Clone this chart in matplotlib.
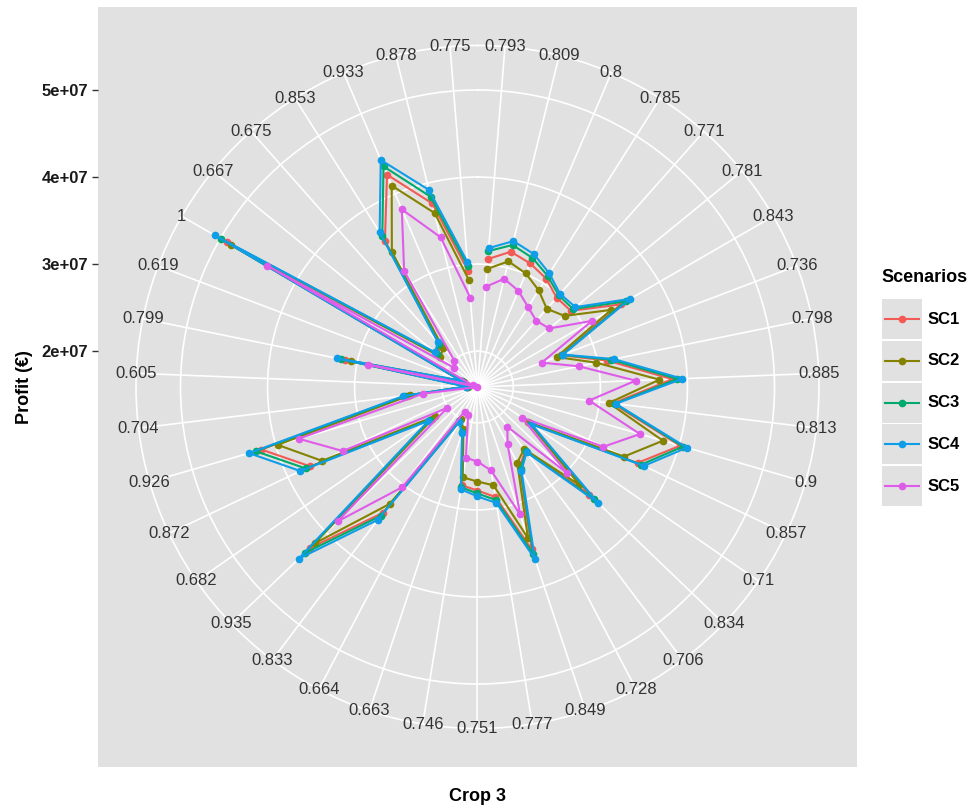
import numpy as np
import matplotlib.pyplot as plt
from matplotlib.patches import Rectangle

plt.rcParams['font.family'] = ['Liberation Sans', 'DejaVu Sans']

# categories, clockwise from the top
crops = ['0.793', '0.809', '0.8', '0.785', '0.771', '0.781', '0.843', '0.736',
         '0.798', '0.885', '0.813', '0.9', '0.857', '0.71', '0.834', '0.706',
         '0.728', '0.849', '0.777', '0.751', '0.746', '0.663', '0.664', '0.833',
         '0.935', '0.682', '0.872', '0.926', '0.704', '0.605', '0.799', '0.619',
         '1', '0.667', '0.675', '0.853', '0.933', '0.878', '0.775']

# profit in units of 1e7 EUR
sc1 = [3.063, 3.189, 3.132, 3.063, 2.960, 2.972, 3.486, 2.618, 3.109, 3.829,
       3.155, 4.012, 3.623, 2.320, 3.372, 2.503, 2.629, 3.555, 2.869, 2.778,
       2.732, 2.126, 2.023, 3.395, 4.263, 2.229, 3.715, 4.172, 2.400, 1.715,
       3.143, 1.783, 4.915, 2.172, 2.229, 3.578, 4.240, 3.760, 2.926]
sc2 = [2.949, 3.075, 3.006, 2.903, 2.789, 2.880, 3.360, 2.560, 2.983, 3.680,
       3.109, 3.806, 3.452, 2.298, 3.212, 2.480, 2.572, 3.418, 2.732, 2.675,
       2.640, 2.103, 2.000, 3.269, 4.183, 2.183, 3.566, 3.978, 2.366, 1.703,
       3.075, 1.760, 4.858, 2.138, 2.183, 3.429, 4.103, 3.646, 2.823]
sc3 = [3.155, 3.269, 3.200, 3.098, 2.995, 3.006, 3.555, 2.629, 3.155, 3.886,
       3.178, 4.046, 3.669, 2.332, 3.452, 2.515, 2.652, 3.612, 2.903, 2.812,
       2.755, 2.138, 2.035, 3.440, 4.343, 2.252, 3.772, 4.240, 2.423, 1.715,
       3.189, 1.783, 4.995, 2.195, 2.252, 3.635, 4.343, 3.840, 2.983]
sc4 = [3.189, 3.315, 3.246, 3.132, 3.018, 3.040, 3.612, 2.640, 3.189, 3.943,
       3.189, 4.092, 3.703, 2.343, 3.509, 2.526, 2.675, 3.669, 2.938, 2.846,
       2.778, 2.149, 2.046, 3.498, 4.435, 2.275, 3.840, 4.320, 2.446, 1.726,
       3.235, 1.795, 5.075, 2.218, 2.275, 3.692, 4.423, 3.920, 3.029]
sc5 = [2.743, 2.869, 2.789, 2.675, 2.606, 2.652, 3.109, 2.378, 2.778, 3.406,
       2.880, 3.532, 3.189, 2.206, 3.018, 2.160, 2.332, 3.132, 2.560, 2.446,
       2.412, 1.932, 1.909, 3.029, 3.818, 2.012, 3.303, 3.726, 2.218, 1.589,
       2.869, 1.646, 4.378, 1.943, 1.989, 3.166, 3.806, 3.360, 2.618]

scenarios = ['SC1', 'SC2', 'SC3', 'SC4', 'SC5']
colors = ['#F35A55', '#858200', '#00AA6C', '#0F9DE8', '#DF5CEA']
r_ticks = [2e7, 3e7, 4e7, 5e7]
r_labels = ['2e+07', '3e+07', '4e+07', '5e+07']

series = [np.array(s) * 1e7 for s in (sc1, sc2, sc3, sc4, sc5)]
lo = min(s.min() for s in series)
hi = max(s.max() for s in series)
span = hi - lo

W, H = 976, 808
fig = plt.figure(figsize=(W / 100, H / 100), dpi=100)


def rect(x0, y0, w, h):
    return [x0 / W, 1 - (y0 + h) / H, w / W, h / H]


BG = '#E1E1E1'

# square grey panel (carries the radial axis on the left)
bg = fig.add_axes(rect(98, 7, 759, 760))
bg.set_facecolor(BG)
bg.set_xlim(0, 1)
bg.set_ylim(lo - 1.25 * span, lo + 1.25 * span)
bg.set_xticks([])
bg.set_yticks(r_ticks)
bg.set_yticklabels(r_labels)
for s in bg.spines.values():
    s.set_visible(False)
bg.tick_params(axis='y', length=4, width=1, color='#333333', pad=3,
               labelsize=12, labelcolor='#1a1a1a')
for t in bg.get_yticklabels():
    t.set_fontweight('bold')
bg.set_ylabel('Profit (€)', fontsize=13, fontweight='bold', labelpad=6)
bg.set_xlabel('Crop 3', fontsize=13, fontweight='bold', labelpad=15)

# polar plot, radius = 0.45 of the panel
pol = fig.add_axes(rect(477.5 - 341.5, 387 - 342, 683, 684), projection='polar')
pol.set_facecolor('none')
pol.set_theta_zero_location('N')
pol.set_theta_direction(-1)
n = len(crops)
theta = (np.arange(n) + 0.5) * 2 * np.pi / n
r_out = lo + 1.125 * span
pol.set_ylim(lo, r_out)
pol.set_xticks(theta)
pol.set_xticklabels([])
pol.set_yticks(r_ticks)
pol.set_yticklabels([])
pol.grid(True, color='white', linewidth=1.2)
pol.spines['polar'].set_color('white')
pol.spines['polar'].set_linewidth(1.2)
pol.tick_params(length=0)

for vals, col in zip(series, colors):
    pol.plot(theta, vals, color=col, linewidth=1.5, marker='o',
             markersize=4.5, zorder=3)

for t, lab in zip(theta, crops):
    pol.text(t, r_out, lab, ha='center', va='center', fontsize=12,
             color='#333333', zorder=4, clip_on=False)

# legend
leg = fig.add_axes([0, 0, 1, 1])
leg.set_xlim(0, W)
leg.set_ylim(H, 0)
leg.axis('off')
leg.patch.set_alpha(0)
leg.text(881, 278, 'Scenarios', fontsize=13, fontweight='bold',
         ha='left', va='center')
for i, (name, col) in enumerate(zip(scenarios, colors)):
    top = 299 + 41.8 * i
    c = top + 20
    leg.add_patch(Rectangle((882, top), 40, 40, facecolor=BG, edgecolor='none'))
    leg.plot([885, 902, 919], [c, c, c], color=col, linewidth=1.5,
             marker='o', markersize=4.5, markevery=[1])
    leg.text(928, c, name, fontsize=12, fontweight='bold', ha='left', va='center')

fig.savefig('out.png', dpi=100)
